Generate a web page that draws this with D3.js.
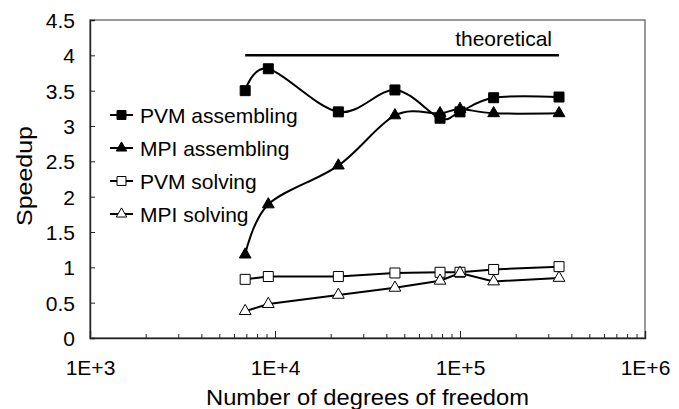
<!DOCTYPE html>
<html lang="en">
<head>
    <meta charset="utf-8">
    <title>Speedup</title>
    <script src="https://d3js.org/d3.v7.min.js"></script>
    <style>
        body {
            margin: 0;
            background: #fff;
        }
        svg {
            display: block;
            font-family: Arial, "Liberation Sans", sans-serif;
        }
        .tick-label {
            font-size: 21px;
            fill: #000;
        }
        .legend text {
            font-size: 21px;
        }
    </style>
</head>
<body>
    <svg id="chart" width="679" height="409"></svg>

    <script>
        // Data
        const dof = [6900, 9200, 22000, 44500, 78000, 100000, 152000, 343000];
        const pvmAssembling = [3.50, 3.81, 3.20, 3.51, 3.11, 3.20, 3.40, 3.41];
        const mpiAssembling = [1.18, 1.89, 2.44, 3.15, 3.18, 3.24, 3.18, 3.18];
        const pvmSolving = [0.83, 0.87, 0.87, 0.92, 0.93, 0.93, 0.97, 1.01];
        const mpiSolving = [0.38, 0.48, 0.61, 0.71, 0.81, 0.92, 0.80, 0.85];
        const theoreticalX = [6900, 343000];
        const theoreticalY = [4, 4];
        const yTicks = [0, 0.5, 1, 1.5, 2, 2.5, 3, 3.5, 4, 4.5];
        const xTicks = [1e3, 1e4, 1e5, 1e6];

        const seriesNames = ["PVM assembling", "MPI assembling", "PVM solving", "MPI solving"];
        const seriesValues = [pvmAssembling, mpiAssembling, pvmSolving, mpiSolving];

        // plot area
        const plotLeft = 90, plotRight = 645, plotTop = 20, plotBottom = 338;

        const svg = d3.select("#chart");

        const x = d3.scaleLog().domain([1e3, 1e6]).range([plotLeft, plotRight]);
        const y = d3.scaleLinear().domain([0, 4.5]).range([plotBottom, plotTop]);

        // frame
        svg.append("rect")
            .attr("x", plotLeft)
            .attr("y", plotTop)
            .attr("width", plotRight - plotLeft)
            .attr("height", plotBottom - plotTop)
            .attr("fill", "none")
            .attr("stroke", "#555")
            .attr("stroke-width", 1.2);

        // y axis: ticks pointing inward
        const yAxis = svg.append("g")
            .attr("transform", `translate(${plotLeft},0)`)
            .call(d3.axisRight(y).tickValues(yTicks).tickSize(5).tickFormat(d3.format("")));
        yAxis.select(".domain").attr("stroke", "#222").attr("stroke-width", 1.4);
        yAxis.selectAll(".tick line").attr("stroke", "#222");
        yAxis.selectAll(".tick text")
            .attr("class", "tick-label")
            .attr("x", -15)
            .attr("text-anchor", "end")
            .attr("dy", "0.36em");

        // x axis: majors and minors pointing up
        const minorTicks = [];
        for (let p = 1e3; p < 1e6; p *= 10) {
            for (let k = 2; k <= 9; k++) minorTicks.push(p * k);
        }
        const xMinor = svg.append("g")
            .attr("transform", `translate(0,${plotBottom})`)
            .call(d3.axisTop(x).tickValues(minorTicks).tickSize(4).tickFormat(""));
        xMinor.select(".domain").remove();
        xMinor.selectAll(".tick line").attr("stroke", "#222");

        const xAxis = svg.append("g")
            .attr("transform", `translate(0,${plotBottom})`)
            .call(d3.axisTop(x).tickValues(xTicks).tickSize(7).tickFormat(d => "1E+" + Math.round(Math.log10(d))));
        xAxis.select(".domain").attr("stroke", "#222").attr("stroke-width", 1.4);
        xAxis.selectAll(".tick line").attr("stroke", "#222");
        xAxis.selectAll(".tick text")
            .attr("class", "tick-label")
            .attr("y", 37)
            .attr("dy", 0);

        // axis titles (the original type runs a bit wide)
        svg.append("text")
            .attr("x", (plotLeft + plotRight) / 2)
            .attr("y", 405)
            .attr("text-anchor", "middle")
            .attr("textLength", 323)
            .attr("lengthAdjust", "spacingAndGlyphs")
            .style("font-size", "22px")
            .text("Number of degrees of freedom");

        svg.append("text")
            .attr("transform", `translate(32,${(plotTop + plotBottom) / 2 - 3}) rotate(-90)`)
            .attr("text-anchor", "middle")
            .attr("textLength", 100)
            .attr("lengthAdjust", "spacingAndGlyphs")
            .style("font-size", "22px")
            .text("Speedup");

        // theoretical line
        svg.append("path")
            .datum(d3.zip(theoreticalX, theoreticalY))
            .attr("fill", "none")
            .attr("stroke", "#000")
            .attr("stroke-width", 2.5)
            .attr("d", d3.line().x(d => x(d[0])).y(d => y(d[1])));

        svg.append("text")
            .attr("x", x(theoreticalX[1]) - 7)
            .attr("y", y(theoreticalY[1]) - 9)
            .attr("text-anchor", "end")
            .style("font-size", "21px")
            .text("theoretical");

        // series lines
        const smooth = d3.line().curve(d3.curveCardinal.tension(0)).x(d => x(d[0])).y(d => y(d[1]));
        const straight = d3.line().x(d => x(d[0])).y(d => y(d[1]));

        const styles = [
            { symbol: d3.symbolSquare, size: 100, fill: "#000", line: smooth },
            { symbol: d3.symbolTriangle, size: 60, fill: "#000", line: smooth },
            { symbol: d3.symbolSquare, size: 100, fill: "#fff", line: straight },
            { symbol: d3.symbolTriangle, size: 60, fill: "#fff", line: straight }
        ];

        seriesValues.forEach((vals, i) => {
            const pts = d3.zip(dof, vals);
            const st = styles[i];
            svg.append("path")
                .datum(pts)
                .attr("fill", "none")
                .attr("stroke", "#000")
                .attr("stroke-width", 2)
                .attr("d", st.line);

            svg.selectAll(null)
                .data(pts)
                .enter().append("path")
                .attr("transform", d => `translate(${x(d[0])},${y(d[1])})`)
                .attr("d", d3.symbol().type(st.symbol).size(st.size))
                .attr("fill", st.fill)
                .attr("stroke", "#000")
                .attr("stroke-width", 1);
        });

        // legend
        const legend = svg.append("g").attr("class", "legend");
        seriesNames.forEach((name, i) => {
            const cy = 115 + i * 33;
            const st = styles[i];
            legend.append("line")
                .attr("x1", 110).attr("x2", 133)
                .attr("y1", cy).attr("y2", cy)
                .attr("stroke", "#000")
                .attr("stroke-width", 2);
            legend.append("path")
                .attr("transform", `translate(121.5,${cy})`)
                .attr("d", d3.symbol().type(st.symbol).size(st.size * 0.8))
                .attr("fill", st.fill)
                .attr("stroke", "#000")
                .attr("stroke-width", 1);
            legend.append("text")
                .attr("x", 140)
                .attr("y", cy)
                .attr("dy", "0.36em")
                .text(name);
        });
    </script>
</body>
</html>
